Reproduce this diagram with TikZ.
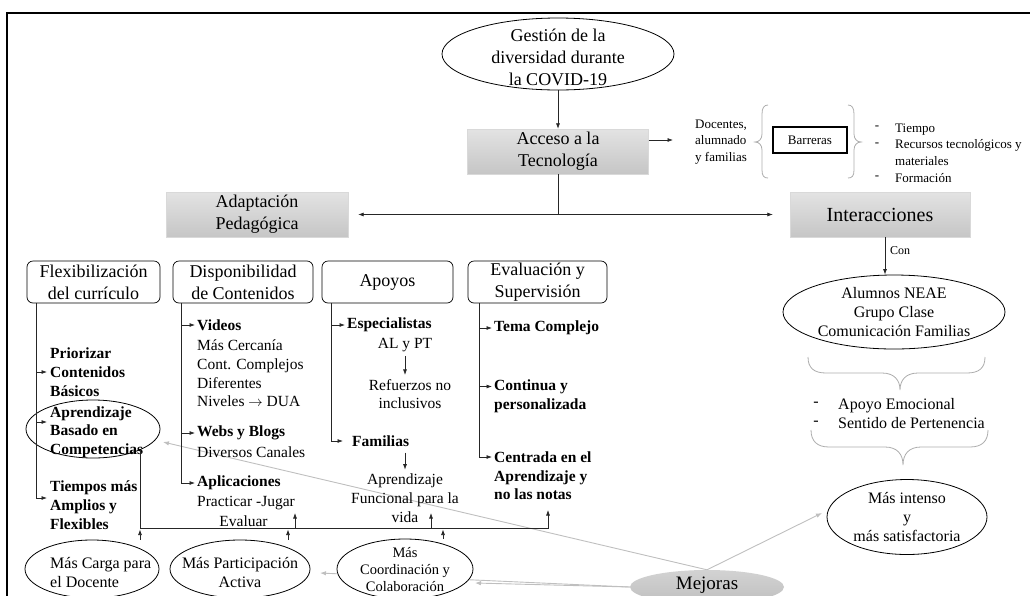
\documentclass[tikz,border=0pt]{standalone}
\usepackage{fontspec}
\setmainfont{Liberation Serif}
\usetikzlibrary{shapes.geometric,arrows.meta,backgrounds}
\newcommand\fBig{\fontsize{18}{22}\selectfont}
\newcommand\fInt{\fontsize{20}{24}\selectfont}
\newcommand\fMej{\fontsize{19}{23}\selectfont}
\newcommand\fMid{\fontsize{16}{19}\selectfont}
\newcommand\fBody{\fontsize{15.5}{18.7}\selectfont}
\newcommand\fCoord{\fontsize{14.5}{17}\selectfont}
\newcommand\fSmall{\fontsize{13}{16.7}\selectfont}
\newcommand\fCon{\fontsize{12}{14}\selectfont}
\begin{document}
\begin{tikzpicture}[x=1pt,y=-1pt,
 arr/.style={draw=black!85, line width=0.7pt, -{Latex[length=5.5pt,width=4pt]}},
 ln/.style={draw=black!85, line width=0.7pt},
 garr/.style={draw=gray!50, line width=0.9pt, -{Latex[length=6pt,width=4.5pt]}},
 brc/.style={draw=gray!65, line width=0.8pt},
 gbox/.style={rectangle, top color=gray!22, bottom color=gray!45, draw=gray!30, line width=0.3pt, align=center, inner sep=0pt},
 rbox/.style={rectangle, rounded corners=6pt, draw, line width=0.7pt, align=center, inner sep=0pt},
 oval/.style={ellipse, draw, line width=0.8pt, inner sep=0pt},
 tx/.style={inner sep=0pt, align=left},
 tc/.style={inner sep=0pt, align=center}]
\clip (0,0) rectangle (1030,595);
% frame
\draw[line width=1.2pt] (7,600) -- (7,13) -- (1040,13);

% title
\node[oval, minimum width=232pt, minimum height=72pt] (gestE) at (558,54) {};
\node[tc, font=\fBig] (gestT) at (558,57) {Gestión de la\\diversidad durante\\la COVID-19};
\node[gbox, minimum width=181pt, minimum height=45pt, font=\fBig] (acc) at (558,151.5) {Acceso a la\\Tecnología};
\draw[arr] (gestE.south) -- (acc.north);

% barreras
\node[tx, font=\fSmall, anchor=west] (doc) at (695,142) {Docentes,\\alumnado\\y familias};
\draw[arr, shorten >=22pt] ([yshift=11.5pt]acc.east) -- ([yshift=11.5pt]acc.east -| doc.west);
\node[draw, line width=1.3pt, minimum width=74pt, minimum height=26pt, font=\fSmall, inner sep=0pt] (barr) at (810,140) {Barreras};
\draw[brc] (768,105) .. controls (764,105) and (762,108) .. (762,114) -- (762,134) .. controls (762,139) and (759,142) .. (755,142) .. controls (759,142) and (762,145) .. (762,150) -- (762,170) .. controls (762,176) and (764,178) .. (768,178);
\draw[brc] (848,105) .. controls (852,105) and (854,108) .. (854,114) -- (854,134) .. controls (854,139) and (857,142) .. (861,142) .. controls (857,142) and (854,145) .. (854,150) -- (854,170) .. controls (854,176) and (852,178) .. (848,178);
\node[font=\fSmall, inner sep=0pt] (d1) at (877,128) {-};
\node[font=\fSmall, inner sep=0pt] (d2) at (877,145) {-};
\node[font=\fSmall, inner sep=0pt] (d3) at (877,178) {-};
\node[tx, font=\fSmall, anchor=west] (lst) at (895,153) {Tiempo\\Recursos tecnológicos y\\materiales\\Formación};

% second level
\node[gbox, minimum width=182pt, minimum height=45pt, font=\fBig] (adap) at (257,214.5) {Adaptación\\Pedagógica};
\node[gbox, minimum width=180pt, minimum height=45pt, font=\fInt] (inter) at (880,214.5) {Interacciones};
\coordinate (jn) at (acc.south |- adap.east);
\draw[ln] (acc.south) -- (jn);
\draw[arr, shorten >=10pt] (jn) -- (adap.east);
\draw[arr, shorten >=17pt] (jn) -- (inter.west);

% interacciones branch
\node[tx, font=\fCon, anchor=west] (con) at (890,251) {Con};
\node[oval, minimum width=222pt, minimum height=74pt] (alumE) at (894,312) {};
\node[tc, font=\fMid] (alumT) at (894,312) {Alumnos NEAE\\Grupo Clase\\Comunicación Familias};
\draw[arr] ([xshift=5pt]inter.south) -- ([xshift=5pt]inter.south |- alumE.north);
\draw[brc] (808,357) .. controls (808,368) and (814,373) .. (826,373) -- (882,373) .. controls (894,373) and (900,380) .. (900,390) .. controls (900,380) and (906,373) .. (918,373) -- (967,373) .. controls (979,373) and (985,368) .. (985,357);
\node[font=\fMid, inner sep=0pt] (d4) at (816,404) {-};
\node[font=\fMid, inner sep=0pt] (d5) at (816,423) {-};
\node[tx, font=\fMid, anchor=west] (emo) at (838,413.5) {Apoyo Emocional\\Sentido de Pertenencia};
\draw[brc] (811,430) .. controls (811,441) and (817,447) .. (829,447) -- (885,447) .. controls (897,447) and (903,454) .. (903,465) .. controls (903,454) and (909,447) .. (921,447) -- (970,447) .. controls (982,447) and (988,441) .. (988,430);
\node[oval, fill=white, minimum width=160pt, minimum height=75pt] (masE) at (907,517) {};
\node[tc, font=\fMid] (masT) at (907,517.5) {Más intenso\\y\\más satisfactoria};

% Mejoras
\node[ellipse, top color=gray!35, bottom color=gray!50, minimum width=154pt, minimum height=34pt, inner sep=0pt] (mejE) at (707,587) {};
\node[font=\fMej, inner sep=0pt] (mejT) at (707,585) {Mejoras};

% column headers
\node[rbox, minimum width=133pt, minimum height=42pt, font=\fBig] (flex) at (93.5,282) {Flexibilización\\del currículo};
\node[rbox, minimum width=140pt, minimum height=42pt, font=\fBig] (disp) at (243,282) {Disponibilidad\\de Contenidos};
\node[rbox, minimum width=131pt, minimum height=42pt, font=\fBig] (apoy) at (387.5,282) {Apoyos};
\node[rbox, minimum width=139pt, minimum height=42pt, font=\fBig] (eval) at (537.5,282) {Evaluación y\\Supervisión};

% flexibilizacion column
\node[oval, minimum width=134pt, minimum height=58pt] (aprE) at (93,429) {};
\node[tx, font=\fBody\bfseries, anchor=west] (prioT) at (50,372) {Priorizar\\Contenidos\\Básicos};
\node[tx, font=\fBody\bfseries, anchor=west] (aprT) at (50,432) {Aprendizaje\\Basado en\\Competencias};
\node[tx, font=\fBody\bfseries, anchor=west] (tiemT) at (50,505) {Tiempos más\\Amplios y\\Flexibles};
\draw[arr] ([xshift=10pt]flex.south west) |- ([xshift=-3pt]prioT.west);
\draw[arr] ([xshift=10pt]flex.south west) |- ([xshift=-3pt,yshift=10pt]aprT.west);
\draw[arr] ([xshift=10pt]flex.south west) |- ([xshift=-3pt,yshift=7pt]tiemT.west);

% disponibilidad column
\node[tx, font=\fBody\bfseries, anchor=west] (vidH) at (197,325) {Videos};
\node[tx, font=\fBody, anchor=west] (vidB) at (197,373.5) {Más Cercanía\\Cont. Complejos\\Diferentes\\Niveles $\rightarrow$ DUA};
\node[tx, font=\fBody\bfseries, anchor=west] (webH) at (197,433) {Webs y Blogs};
\node[tx, font=\fBody, anchor=west] (webB) at (197,452) {Diversos Canales};
\node[tx, font=\fBody\bfseries, anchor=west] (aplH) at (197,483) {Aplicaciones};
\node[tx, font=\fBody, anchor=west] (aplB) at (197,503) {Practicar -Jugar};
\node[tc, font=\fBody] (evB) at (243.5,521) {Evaluar};
\draw[arr] ([xshift=9pt]disp.south west) |- ([xshift=-2pt]vidH.west);
\draw[arr] ([xshift=9pt]disp.south west) |- ([xshift=-2pt]webH.west);
\draw[arr] ([xshift=9pt]disp.south west) |- ([xshift=-2pt]aplH.west);

% apoyos column
\node[tx, font=\fBody\bfseries, anchor=west] (espH) at (347,325) {Especialistas};
\node[tc, font=\fBody] (alpt) at (405,345) {AL y PT};
\node[tc, font=\fBody] (refT) at (410,394) {Refuerzos no\\inclusivos};
\node[tx, font=\fBody\bfseries, anchor=west] (famH) at (352,441) {Familias};
\node[tc, font=\fBody] (funT) at (405,498) {Aprendizaje\\Funcional para la\\vida};
\draw[arr] ([xshift=10pt]apoy.south west) |- ([xshift=-2pt]espH.west);
\draw[arr] ([xshift=10pt]apoy.south west) |- ([xshift=-9pt]famH.west);
\draw[arr, shorten <=4pt, shorten >=4pt] (alpt.south) -- (alpt.south |- refT.north);
\draw[arr, shorten <=6pt, shorten >=4pt] (funT.north |- famH.south) -- (funT.north);

% evaluacion column
\node[tx, font=\fBody\bfseries, anchor=west] (temaH) at (494,328) {Tema Complejo};
\node[tx, font=\fBody\bfseries, anchor=west] (contT) at (494,396.5) {Continua y\\personalizada};
\node[tx, font=\fBody\bfseries, anchor=west] (centT) at (494,475.7) {Centrada en el\\Aprendizaje y\\no las notas};
\draw[arr] ([xshift=12pt]eval.south west) |- ([xshift=-2pt]temaH.west);
\draw[arr] ([xshift=12pt]eval.south west) |- ([xshift=-2pt,yshift=10pt]contT.west);
\draw[arr] ([xshift=12pt]eval.south west) |- ([xshift=-2pt,yshift=18.7pt]centT.west);

% bottom ellipses
\node[oval, fill=white, minimum width=134pt, minimum height=58pt] (cargE) at (92,569) {};
\node[tx, font=\fMid, anchor=west] (cargT) at (50,572.5) {Más Carga para\\el Docente};
\node[oval, fill=white, minimum width=140pt, minimum height=58pt] (partE) at (240,569) {};
\node[tc, font=\fMid] (partT) at (240,572.5) {Más Participación\\Activa};
\node[oval, fill=white, minimum width=136pt, minimum height=60pt] (coordE) at (405,569) {};
\node[tc, font=\fCoord] (coordT) at (405,570) {Más\\Coordinación y\\Colaboración};

% bus
\coordinate (aprB) at (140,450);
\coordinate (busR) at (548,528);
\coordinate (busRt) at (548,510);
\draw[arr] (aprB) |- (busR) -- (busRt);
\coordinate (b1) at (295,528);
\coordinate (b1t) at (295,513);
\coordinate (b4) at (431,528);
\coordinate (b4t) at (431,513);
\draw[arr] (b1) -- (b1t);
\draw[arr] (b4) -- (b4t);
\coordinate (b2) at (288,528);
\coordinate (b3) at (443,528);
\draw[arr, shorten >=1.5pt] (cargE.north -| aprB) -- (aprB |- busR);
\draw[arr, shorten >=1.5pt] (partE.north -| b2) -- (b2);
\draw[arr, shorten >=1.5pt] (coordE.north -| b3) -- (b3);

% gray connectors from Mejoras
\coordinate (masTip) at (822,513);
\coordinate (aprTip) at (163,442);
\coordinate (partTip) at (320,573);
\coordinate (coordTip) at (475,583);
\begin{scope}[on background layer]
\draw[garr] (mejE.north) -- (masTip);
\draw[garr] (mejE.north) -- (aprTip);
\draw[garr] (mejE.west) -- (partTip);
\draw[garr] (mejE.west) -- (coordTip);
\end{scope}
\end{tikzpicture}
\end{document}
